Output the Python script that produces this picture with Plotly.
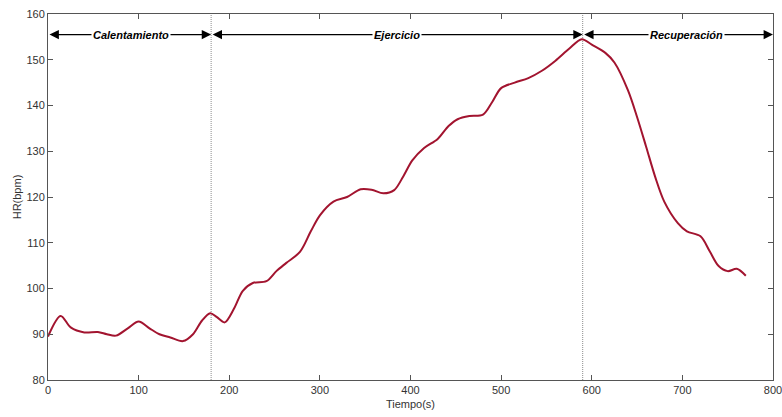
import plotly.graph_objects as go

# Heart-rate trace (time in s, HR in bpm)
t = [0, 14, 25, 40, 55, 65, 75, 88, 100, 112, 123, 135, 149, 160, 170, 179, 186, 195, 205,
     215, 226, 241, 252, 263, 278, 290, 300, 315, 330, 345, 357, 370, 382, 392, 402, 415, 430,
     442, 452, 465, 480, 490, 500, 515, 530, 545, 560, 575, 589, 600, 615, 625, 640, 650, 660,
     670, 680, 695, 705, 720, 730, 740, 750, 760, 770]
hr = [89.5, 94.0, 91.5, 90.4, 90.5, 90.0, 89.7, 91.3, 92.8, 91.3, 90.0, 89.3, 88.5, 90.0, 93.0, 94.6, 93.8, 92.6, 95.5,
      99.5, 101.2, 101.6, 103.8, 105.6, 108.0, 112.5, 116.0, 119.0, 120.0, 121.7, 121.6, 120.8, 121.5, 124.5, 128.0, 130.7, 132.7,
      135.5, 137.0, 137.7, 138.0, 140.7, 143.8, 145.0, 146.0, 147.6, 149.8, 152.4, 154.5, 153.3, 151.5, 149.4, 143.3, 137.5, 131.0,
      124.4, 119.0, 114.3, 112.5, 111.4, 108.2, 104.9, 103.8, 104.3, 102.8]

# Phase boundaries and labels
phase_start = [0, 180, 590]
phase_end = [180, 590, 800]
phase_label = ["Calentamiento", "Ejercicio", "Recuperación"]
label_x = [92, 385, 704]
arrow_y = 155.5
x_ticks = [0, 100, 200, 300, 400, 500, 600, 700, 800]
y_ticks = [80, 90, 100, 110, 120, 130, 140, 150, 160]

fig = go.Figure()
fig.add_trace(go.Scatter(x=t, y=hr, mode="lines",
                         line=dict(color="#A2142F", width=2, shape="spline", smoothing=0.9),
                         showlegend=False, hoverinfo="skip"))

for b in [180, 590]:
    fig.add_shape(type="line", x0=b, x1=b, y0=80, y1=160, xref="x", yref="y",
                  line=dict(color="#8c8c8c", width=1, dash="1px,1px"), layer="below")

for s, e, lab, lx in zip(phase_start, phase_end, phase_label, label_x):
    fig.add_annotation(x=e, y=arrow_y, ax=s, ay=arrow_y, xref="x", yref="y", axref="x", ayref="y",
                       text="", showarrow=True, arrowhead=2, arrowsize=1.7, arrowwidth=1.1,
                       arrowcolor="black", arrowside="end+start", standoff=0, startstandoff=0)
    fig.add_annotation(x=lx, y=arrow_y, xref="x", yref="y", text="<b><i>" + lab + "</i></b>",
                       showarrow=False, bgcolor="white", borderpad=1,
                       font=dict(family="Liberation Sans, Arial", size=11, color="black"))

axis_common = dict(showgrid=False, zeroline=False, showline=True, linecolor="#555555", linewidth=1,
                   mirror="ticks", ticks="inside", ticklen=5, tickcolor="#555555",
                   tickfont=dict(family="Liberation Sans, Arial", size=11, color="#333333"))

fig.update_xaxes(range=[0, 800], tickvals=x_ticks, ticklabeloverflow="allow", automargin="bottom",
                 title=dict(text="Tiempo(s)", standoff=5,
                            font=dict(family="Liberation Sans, Arial", size=11, color="#333333")),
                 **axis_common)
fig.update_yaxes(range=[80, 160], tickvals=y_ticks, title=dict(text="HR(bpm)", standoff=2,
                 font=dict(family="Liberation Sans, Arial", size=11, color="#333333")), **axis_common)

fig.update_layout(width=782, height=417, margin=dict(l=48, r=8, t=11, b=37),
                  paper_bgcolor="white", plot_bgcolor="white")

fig.write_html("out.html")
